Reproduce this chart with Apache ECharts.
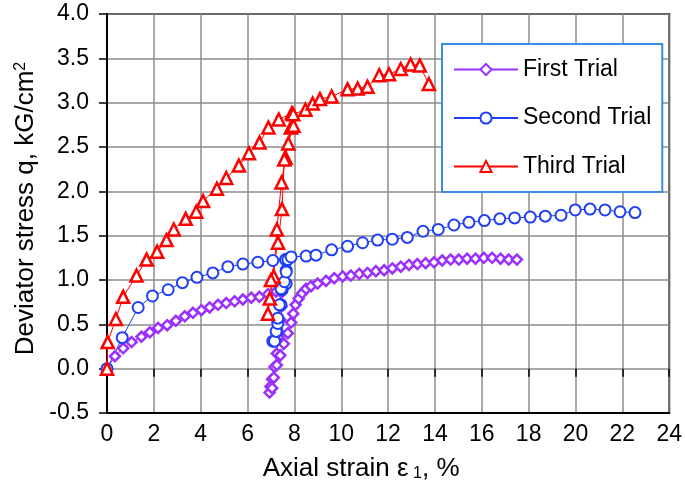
<!DOCTYPE html>
<html>
<head>
<meta charset="utf-8">
<script src="https://cdn.jsdelivr.net/npm/echarts@6/dist/echarts.min.js"></script>
<style>
  html, body { margin: 0; padding: 0; background: #fff; }
  #chart { width: 685px; height: 493px; }
</style>
</head>
<body>
<div id="chart"></div>
<script>
// 轴向应变 (%) / 偏应力 (kG/cm2)
const firstTrial = [
  [0, 0], [0.34, 0.14], [0.69, 0.23], [1.05, 0.30], [1.47, 0.36], [1.83, 0.41],
  [2.18, 0.46], [2.57, 0.49], [2.94, 0.54], [3.32, 0.59], [3.67, 0.63], [4.03, 0.66],
  [4.38, 0.69], [4.74, 0.72], [5.09, 0.74], [5.45, 0.76], [5.80, 0.78], [6.16, 0.80],
  [6.51, 0.81], [6.87, 0.84], [7.22, 0.87], [7.45, 0.86],
  [7.45, 0.70], [7.40, 0.55], [7.32, 0.36], [7.25, 0.17], [7.15, 0.02], [7.05, -0.12],
  [6.98, -0.20], [6.94, -0.27],
  [7.05, -0.22], [7.12, -0.10], [7.25, 0.04], [7.40, 0.15], [7.55, 0.28], [7.72, 0.40],
  [7.86, 0.52], [7.95, 0.62], [8.05, 0.72], [8.18, 0.79], [8.33, 0.85], [8.50, 0.90],
  [8.71, 0.93], [8.99, 0.96], [9.35, 0.99], [9.70, 1.02], [10.06, 1.04], [10.41, 1.05],
  [10.77, 1.07], [11.12, 1.08], [11.48, 1.10], [11.83, 1.11], [12.18, 1.13], [12.54, 1.15],
  [12.89, 1.17], [13.25, 1.18], [13.60, 1.19], [13.96, 1.20], [14.31, 1.22], [14.67, 1.23],
  [15.02, 1.23], [15.37, 1.24], [15.73, 1.24], [16.09, 1.25], [16.44, 1.25], [16.80, 1.24],
  [17.15, 1.23], [17.50, 1.23]
];

const secondTrial = [
  [0, 0], [0.65, 0.35], [1.33, 0.69], [1.94, 0.82], [2.61, 0.89], [3.22, 0.97],
  [3.84, 1.03], [4.52, 1.08], [5.16, 1.15], [5.80, 1.18], [6.44, 1.20], [7.08, 1.22],
  [7.62, 1.23],
  [7.65, 1.11], [7.65, 0.96], [7.48, 0.89], [7.43, 0.72], [7.29, 0.55], [7.26, 0.42],
  [7.08, 0.31],
  [7.15, 0.31], [7.22, 0.42], [7.29, 0.51], [7.29, 0.57], [7.36, 0.72], [7.43, 0.90],
  [7.57, 0.98], [7.65, 1.09], [7.72, 1.23], [7.86, 1.26],
  [8.50, 1.27], [8.92, 1.28], [9.59, 1.34], [10.27, 1.38], [10.91, 1.42], [11.55, 1.45],
  [12.18, 1.46], [12.82, 1.48], [13.49, 1.55], [14.14, 1.57], [14.81, 1.62], [15.45, 1.65],
  [16.11, 1.67], [16.77, 1.69], [17.40, 1.70], [18.07, 1.71], [18.71, 1.72], [19.38, 1.73],
  [19.99, 1.79], [20.62, 1.80], [21.26, 1.79], [21.90, 1.77], [22.54, 1.76]
];

const thirdTrial = [
  [0, 0], [0.03, 0.30], [0.38, 0.56], [0.69, 0.81], [1.26, 1.05], [1.69, 1.23],
  [2.14, 1.32], [2.54, 1.45], [2.85, 1.57], [3.36, 1.69], [3.81, 1.77], [4.10, 1.89],
  [4.69, 2.03], [5.09, 2.15], [5.63, 2.29], [6.06, 2.43], [6.51, 2.55], [6.89, 2.72],
  [7.33, 2.81], [7.89, 2.88],
  [7.85, 2.72], [7.62, 2.38], [7.45, 2.10], [7.25, 1.57], [7.12, 1.04], [6.95, 0.79],
  [6.87, 0.62],
  [7.00, 1.00], [7.30, 1.42], [7.47, 1.80], [7.57, 2.36], [7.74, 2.54], [7.96, 2.74],
  [7.95, 2.87],
  [8.47, 2.92], [8.78, 2.99], [9.09, 3.04], [9.59, 3.07], [10.27, 3.15], [10.70, 3.16],
  [11.12, 3.18], [11.62, 3.31], [12.04, 3.32], [12.54, 3.38], [12.96, 3.43], [13.35, 3.42],
  [13.74, 3.21]
];

const seriesNames = ['First Trial', 'Second Trial', 'Third Trial'];

const FONT = 'Liberation Sans, Arial, sans-serif';

const dom = document.getElementById('chart');
const chart = echarts.init(dom);

const option = {
  animation: false,
  backgroundColor: '#fff',
  grid: {
    left: 107, right: 14, top: 14, bottom: 80,
    show: true, borderColor: '#000', borderWidth: 2, backgroundColor: 'transparent'
  },
  legend: {
    data: seriesNames,
    orient: 'vertical',
    left: 442, top: 44,
    padding: [14, 11, 14, 11],
    itemWidth: 64, itemHeight: 14, itemGap: 25.5,
    backgroundColor: '#fff',
    borderColor: '#3c8de8', borderWidth: 2,
    textStyle: { color: '#000', fontSize: 23, fontFamily: FONT }
  },
  xAxis: [
    {
      type: 'value', min: 0, max: 24, interval: 2,
      name: '{a|Axial strain ε}{s| 1}{a|, %}',
      nameLocation: 'middle', nameGap: 43,
      nameTextStyle: {
        padding: [0, 54, 0, 0],
        rich: {
          a: { fontSize: 26, fontFamily: FONT, color: '#000' },
          s: { fontSize: 16, fontFamily: FONT, color: '#000', verticalAlign: 'bottom', padding: [10, 0, 0, 0] }
        }
      },
      axisLine: { onZero: false, lineStyle: { color: '#000', width: 2 } },
      axisTick: { show: false },
      axisLabel: { color: '#000', fontSize: 23, fontFamily: FONT, margin: 10 },
      splitLine: { show: true, lineStyle: { color: '#8c8c8c', width: 1.5 } }
    },
    {
      // y=0 处的刻度
      type: 'value', min: 0, max: 24, interval: 2, position: 'bottom',
      axisLine: { show: false, onZero: true },
      axisTick: { show: true, length: 8, lineStyle: { color: '#000', width: 1.5 } },
      axisLabel: { show: false },
      splitLine: { show: false }
    }
  ],
  yAxis: {
    type: 'value', min: -0.5, max: 4, interval: 0.5,
    name: '{a|Deviator stress q, kG/cm}{s|2}',
    nameLocation: 'middle', nameGap: 68, nameRotate: 90,
    nameTextStyle: {
      padding: [0, 0, 0, 10],
      rich: {
        a: { fontSize: 26, fontFamily: FONT, color: '#000' },
        s: { fontSize: 16, fontFamily: FONT, color: '#000', verticalAlign: 'top', padding: [0, 0, 10, 0] }
      }
    },
    axisLine: { lineStyle: { color: '#000', width: 2 } },
    axisTick: { show: true, inside: false, length: 8, lineStyle: { color: '#000', width: 1.5 } },
    axisLabel: {
      color: '#000', fontSize: 23, fontFamily: FONT, margin: 18,
      formatter: v => v.toFixed(1)
    },
    splitLine: { show: true, lineStyle: { color: '#8c8c8c', width: 1.5 } }
  },
  series: [
    {
      name: seriesNames[0], type: 'line', data: firstTrial,
      symbol: 'diamond', symbolSize: 10,
      lineStyle: { color: '#9b30ff', width: 1 },
      itemStyle: { color: '#fff', borderColor: '#9b30ff', borderWidth: 2.5 }
    },
    {
      name: seriesNames[1], type: 'line', data: secondTrial,
      symbol: 'emptyCircle', symbolSize: 11,
      lineStyle: { color: '#1f3ff5', width: 1 },
      itemStyle: { color: '#1f3ff5', borderColor: '#1f3ff5', borderWidth: 2.5 }
    },
    {
      name: seriesNames[2], type: 'line', data: thirdTrial,
      symbol: 'triangle', symbolSize: 12,
      lineStyle: { color: '#ff0000', width: 1 },
      itemStyle: { color: '#fff', borderColor: '#ff0000', borderWidth: 2.5 }
    }
  ]
};

chart.setOption(option, true);
</script>
</body>
</html>
